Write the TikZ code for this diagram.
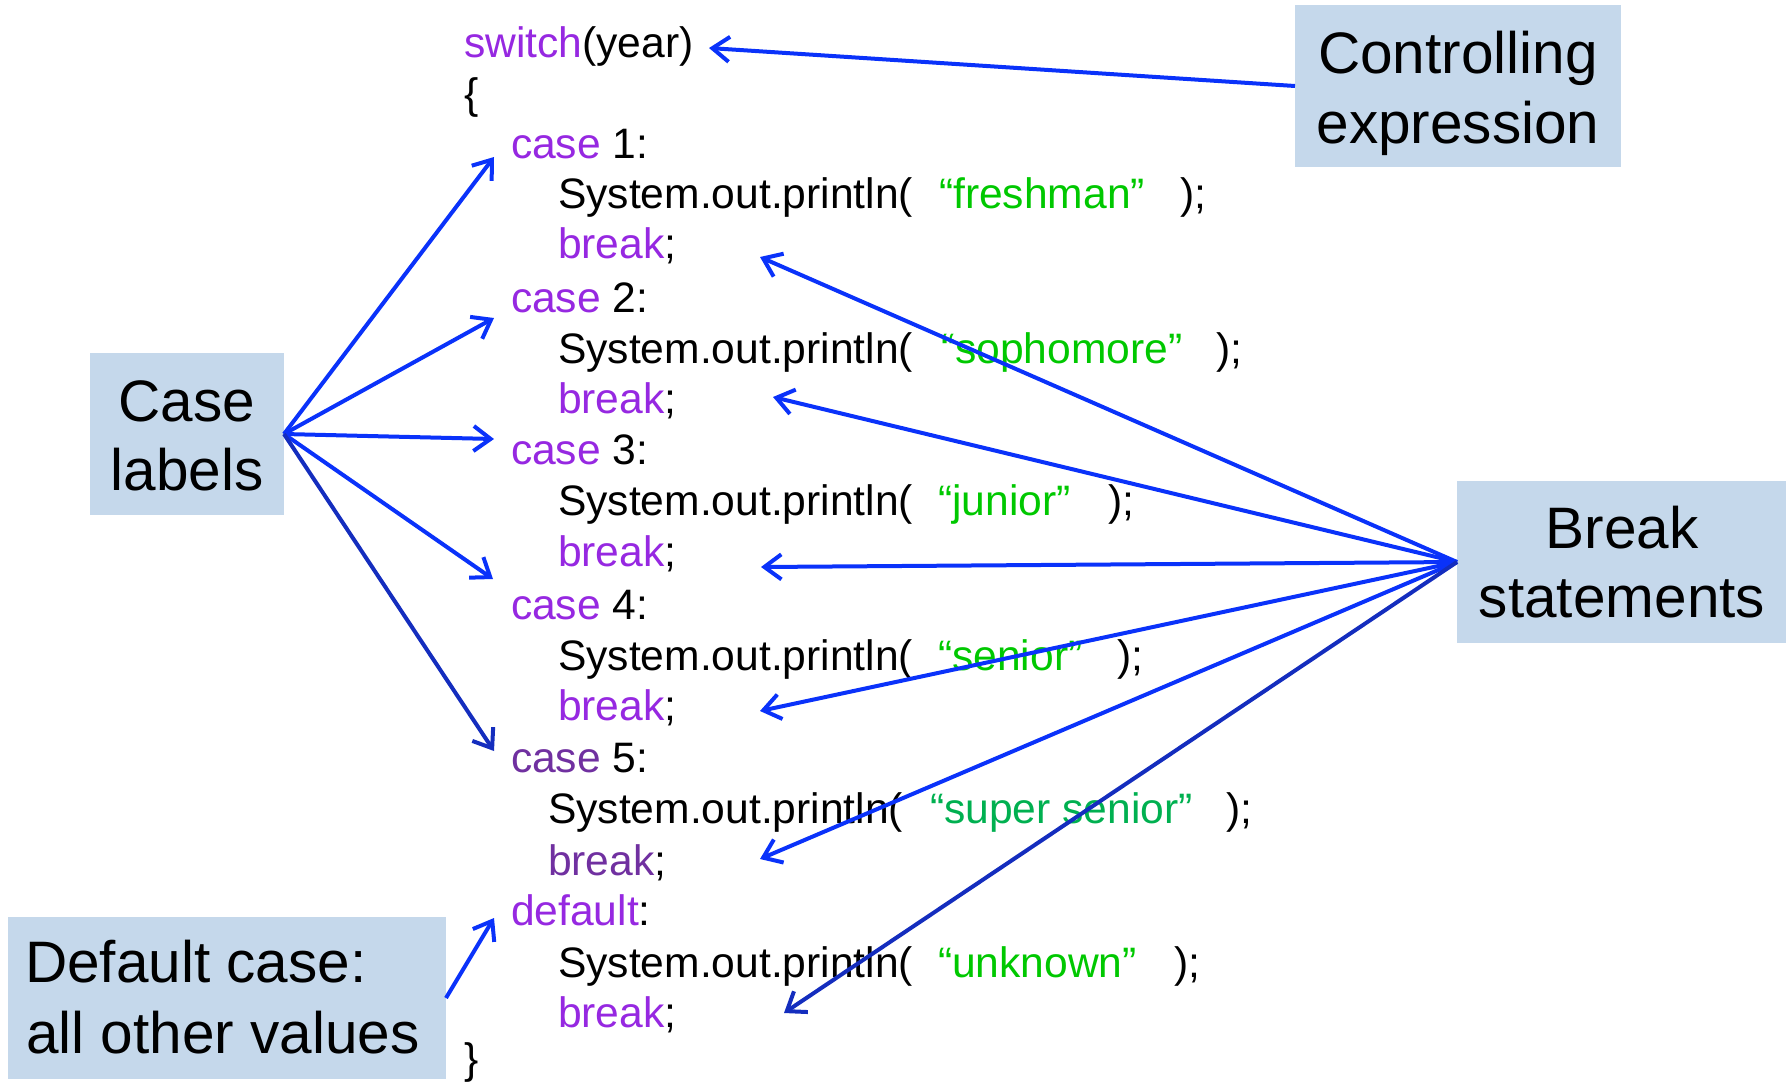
\documentclass[tikz,border=0pt]{standalone}
\usepackage{fontspec}
\setmainfont{Liberation Sans}
\usetikzlibrary{arrows.meta}
\definecolor{kw}{RGB}{150,40,225}
\definecolor{kwdark}{RGB}{112,48,160}
\definecolor{strg}{RGB}{0,200,0}
\definecolor{strteal}{RGB}{0,176,80}
\definecolor{boxfill}{RGB}{197,216,235}
\definecolor{arr}{RGB}{10,50,250}
\definecolor{arrdark}{RGB}{20,45,190}
\begin{document}
\begin{tikzpicture}[x=1pt,y=-1pt,
  code/.style={anchor=base west,inner sep=0pt,outer sep=0pt,font=\fontsize{42.6}{50}\selectfont},
  lbl/.style={anchor=base,inner sep=0pt,font=\fontsize{58.5}{70}\selectfont},
  callout/.style={fill=boxfill,draw=none,inner sep=0pt,outer sep=0pt},
  pointer/.style={draw=arr,line width=4pt,-{Straight Barb[length=17pt,width=25pt]}},
  darkpointer/.style={pointer,draw=arrdark}]
\useasboundingbox (0,0) rectangle (1791,1088);

% callout boxes
\node[callout,minimum width=326pt,minimum height=162pt] (ctrl) at (1458,86) {};
\node[callout,minimum width=194pt,minimum height=162pt] (cases) at (187,434) {};
\node[callout,minimum width=329pt,minimum height=162pt] (brk) at (1621.5,562) {};
\node[callout,minimum width=438pt,minimum height=162pt] (dflt) at (227,998) {};

\node[lbl] (ctrlA) at (1458,73) {Controlling};
\node[lbl] (ctrlB) at (1458,143) {expression};
\node[lbl] (casesA) at (187,421) {Case};
\node[lbl] (casesB) at (187,490) {labels};
\node[lbl] (brkA) at (1622,548) {Break};
\node[lbl] (brkB) at (1622,617) {statements};
\node[lbl,anchor=base west] (dfltA) at (25,982) {Default case:};
\node[lbl,anchor=base west] (dfltB) at (26,1053) {all other values};

% code
\node[code] (sw) at (464,57) {\textcolor{kw}{switch}(year)};
\node[code] (ob) at (464,108) {\{};
\node[code] (c1) at (511,158) {\textcolor{kw}{case} 1:};
\node[code] (p1) at (558,208) {System.out.println(};
\node[code] (s1) at (939,208) {\textcolor{strg}{“freshman”}};
\node[code] (e1) at (1180,208) {);};
\node[code] (b1) at (558,258) {\textcolor{kw}{break};};
\node[code] (c2) at (511,312) {\textcolor{kw}{case} 2:};
\node[code] (p2) at (558,363) {System.out.println(};
\node[code] (s2) at (941,363) {\textcolor{strg}{“sophomore”}};
\node[code] (e2) at (1216,363) {);};
\node[code] (b2) at (558,413) {\textcolor{kw}{break};};
\node[code] (c3) at (511,464) {\textcolor{kw}{case} 3:};
\node[code] (p3) at (558,515) {System.out.println(};
\node[code] (s3) at (938,515) {\textcolor{strg}{“junior”}};
\node[code] (e3) at (1108,515) {);};
\node[code] (b3) at (558,566) {\textcolor{kw}{break};};
\node[code] (c4) at (511,619) {\textcolor{kw}{case} 4:};
\node[code] (p4) at (558,670) {System.out.println(};
\node[code] (s4) at (938,670) {\textcolor{strg}{“senior”}};
\node[code] (e4) at (1117,670) {);};
\node[code] (b4) at (558,720) {\textcolor{kw}{break};};
\node[code] (c5) at (511,772) {\textcolor{kwdark}{case} 5:};
\node[code] (p5) at (548,823) {System.out.println(};
\node[code] (s5) at (930,823) {\textcolor{strteal}{“super senior”}};
\node[code] (e5) at (1226,823) {);};
\node[code] (b5) at (548,875) {\textcolor{kwdark}{break};};
\node[code] (df) at (511,925) {\textcolor{kw}{default}:};
\node[code] (p6) at (558,977) {System.out.println(};
\node[code] (s6) at (938,977) {\textcolor{strg}{“unknown”}};
\node[code] (e6) at (1174,977) {);};
\node[code] (b6) at (558,1027) {\textcolor{kw}{break};};
\node[code] (cb) at (464,1073) {\}};

% arrow tips
\coordinate (tCtrl) at (709,48);
\coordinate (tC1) at (494,157);
\coordinate (tC2) at (494,318);
\coordinate (tC3) at (494,439);
\coordinate (tC4) at (493,579);
\coordinate (tC5) at (494,751);
\coordinate (tDef) at (494,918);
\coordinate (tB1) at (760,257);
\coordinate (tB2) at (773,397);
\coordinate (tB3) at (761,567);
\coordinate (tB4) at (760,711);
\coordinate (tB5) at (760,859);
\coordinate (tB6) at (784,1013);

% connectors
\draw[pointer] (ctrl.west) -- (tCtrl);
\draw[pointer] (cases.east) -- (tC1);
\draw[pointer] (cases.east) -- (tC2);
\draw[pointer] (cases.east) -- (tC3);
\draw[pointer] (cases.east) -- (tC4);
\draw[darkpointer] (cases.east) -- (tC5);
\draw[pointer] (dflt.east) -- (tDef);
\draw[pointer] (brk.west) -- (tB1);
\draw[pointer] (brk.west) -- (tB2);
\draw[pointer] (brk.west) -- (tB3);
\draw[pointer] (brk.west) -- (tB4);
\draw[pointer] (brk.west) -- (tB5);
\draw[darkpointer] (brk.west) -- (tB6);
\end{tikzpicture}
\end{document}
